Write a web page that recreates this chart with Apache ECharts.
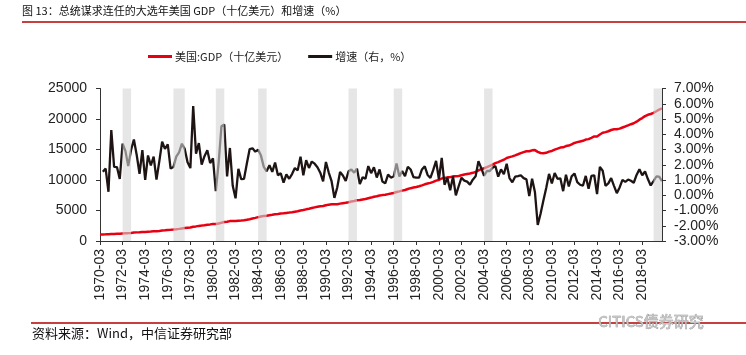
<!DOCTYPE html>
<html>
<head>
<meta charset="utf-8">
<script src="https://cdn.jsdelivr.net/npm/echarts@6/dist/echarts.min.js"></script>
<style>
html,body{margin:0;padding:0;background:#fff;}
#chart{width:746px;height:355px;}
</style>
</head>
<body>
<div id="chart"></div>
<script>
// Quarter labels 1970-03 ... 2019-12
var years = [];
for (var y = 1970; y <= 2019; y++) years.push(y);
var quarterEnds = ['03', '06', '09', '12'];
var categories = [];
years.forEach(function (yr) { quarterEnds.forEach(function (m) { categories.push(yr + '-' + m); }); });

// US nominal GDP, billions USD (left axis)
var gdp = [
  1051.2, 1067.4, 1086.1, 1088.6,
  1135.2, 1156.3, 1177.7, 1190.3,
  1230.6, 1266.4, 1290.6, 1328.9,
  1377.5, 1413.9, 1433.8, 1476.3,
  1491.2, 1530.1, 1560.0, 1599.7,
  1616.1, 1651.9, 1709.8, 1761.8,
  1820.5, 1852.3, 1886.6, 1934.3,
  1988.6, 2055.9, 2118.5, 2164.3,
  2202.8, 2331.6, 2395.1, 2476.9,
  2526.6, 2591.2, 2667.6, 2723.9,
  2789.8, 2797.4, 2856.5, 2985.6,
  3124.2, 3162.5, 3260.6, 3280.8,
  3274.3, 3331.0, 3366.3, 3402.6,
  3473.4, 3578.8, 3689.2, 3794.7,
  3908.1, 4009.6, 4084.3, 4148.6,
  4230.2, 4294.9, 4386.8, 4444.1,
  4507.9, 4545.3, 4607.7, 4657.6,
  4722.2, 4806.2, 4884.6, 5008.0,
  5073.4, 5190.0, 5282.8, 5399.5,
  5511.3, 5612.5, 5695.4, 5747.2,
  5872.7, 5960.0, 6015.1, 6004.7,
  6035.2, 6126.9, 6205.9, 6264.5,
  6363.1, 6470.8, 6566.6, 6680.8,
  6729.5, 6808.9, 6882.1, 7013.7,
  7115.7, 7246.9, 7331.1, 7455.3,
  7522.3, 7580.9, 7683.1, 7772.6,
  7868.5, 8032.8, 8131.4, 8259.8,
  8362.7, 8518.8, 8662.8, 8765.9,
  8866.5, 8969.7, 9121.1, 9294.0,
  9417.3, 9524.2, 9681.9, 9899.4,
  10002.9, 10247.7, 10318.2, 10435.7,
  10470.2, 10599.0, 10598.0, 10660.5,
  10783.5, 10887.5, 10984.0, 11061.4,
  11174.1, 11312.8, 11566.7, 11772.2,
  11923.4, 12112.8, 12305.3, 12527.2,
  12767.3, 12922.7, 13142.9, 13324.2,
  13599.2, 13753.4, 13870.2, 14039.6,
  14215.7, 14402.1, 14564.1, 14715.1,
  14706.5, 14865.7, 14898.9, 14608.2,
  14430.9, 14381.2, 14448.9, 14651.2,
  14764.6, 14980.2, 15141.6, 15309.5,
  15351.4, 15558.0, 15647.7, 15842.3,
  16068.8, 16207.1, 16319.5, 16420.4,
  16629.0, 16699.6, 16911.1, 17133.1,
  17144.3, 17462.7, 17743.2, 17852.5,
  17991.3, 18193.7, 18306.0, 18332.1,
  18425.3, 18611.6, 18775.5, 18968.0,
  19148.2, 19304.5, 19561.9, 19894.8,
  20155.5, 20470.2, 20687.3, 20819.3,
  21013.1, 21272.4, 21531.8, 21729.1
];

// Quarter-on-quarter growth, % (right axis)
var growth = [
  null, 1.54, 1.75, 0.23,
  4.28, 1.86, 1.85, 1.07,
  3.39, 2.91, 1.91, 2.97,
  3.66, 2.64, 1.41, 2.96,
  1.01, 2.61, 1.95, 2.54,
  1.03, 2.22, 3.51, 3.04,
  3.33, 1.75, 1.85, 2.53,
  2.81, 3.38, 3.04, 2.16,
  1.78, 5.85, 2.72, 3.42,
  2.01, 2.56, 2.95, 2.11,
  2.42, 0.27, 2.11, 4.52,
  4.64, 1.23, 3.10, 0.62,
  -0.20, 1.73, 1.06, 1.08,
  2.08, 3.03, 3.08, 2.86,
  2.99, 2.60, 1.86, 1.57,
  1.97, 1.53, 2.14, 1.31,
  1.44, 0.83, 1.37, 1.08,
  1.39, 1.78, 1.63, 2.53,
  1.31, 2.30, 1.79, 2.21,
  2.07, 1.84, 1.48, 0.91,
  2.18, 1.49, 0.92, -0.17,
  0.51, 1.52, 1.29, 0.94,
  1.57, 1.69, 1.48, 1.74,
  0.73, 1.18, 1.08, 1.91,
  1.45, 1.84, 1.16, 1.69,
  0.90, 0.78, 1.35, 1.16,
  1.23, 2.09, 1.23, 1.58,
  1.25, 1.87, 1.69, 1.19,
  1.15, 1.16, 1.69, 1.90,
  1.33, 1.14, 1.66, 2.25,
  1.05, 2.45, 0.69, 1.14,
  0.33, 1.23, -0.01, 0.59,
  1.15, 0.96, 0.89, 0.70,
  1.02, 1.24, 2.24, 1.78,
  1.28, 1.59, 1.59, 1.80,
  1.92, 1.22, 1.70, 1.38,
  2.06, 1.13, 0.85, 1.22,
  1.25, 1.31, 1.12, 1.04,
  -0.06, 1.08, 0.22, -1.95,
  -1.21, -0.34, 0.47, 1.40,
  0.77, 1.46, 1.08, 1.11,
  0.27, 1.35, 0.58, 1.24,
  1.43, 0.86, 0.69, 0.62,
  1.27, 0.42, 1.27, 1.31,
  0.07, 1.86, 1.61, 0.62,
  0.78, 1.12, 0.62, 0.14,
  0.51, 1.01, 0.88, 1.03,
  0.95, 0.82, 1.33, 1.70,
  1.31, 1.56, 1.06, 0.64,
  0.93, 1.23, 1.22, 0.92
];

// Shaded election periods (start, end quarter)
var electionStart = ['1972-03', '1976-09', '1980-06', '1984-03', '1992-03', '1996-03', '2004-03', '2019-03'];
var electionEnd   = ['1972-12', '1977-09', '1981-03', '1984-12', '1992-12', '1996-12', '2004-12', '2019-12'];

var leftTicks = { min: 0, max: 25000, step: 5000 };
var rightTicks = { min: -3, max: 7, step: 1 };

var seriesNames = ['美国:GDP（十亿美元）', '增速（右，%）'];
var titleText = '图 13：总统谋求连任的大选年美国 GDP（十亿美元）和增速（%）';
var sourceText = '资料来源：Wind，中信证券研究部';
var watermarkText = 'CITICS债券研究';

var FONT = "'Liberation Sans', Arial, 'Noto Sans CJK SC', sans-serif";
var CJK = "'Noto Sans CJK SC', 'Liberation Sans', sans-serif";

var shadeAreas = electionStart.map(function (s, i) {
  return [{ xAxis: s }, { xAxis: electionEnd[i] }];
});

var chart = echarts.init(document.getElementById('chart'), null, { renderer: 'canvas' });
chart.setOption({
  animation: false,
  backgroundColor: '#ffffff',
  textStyle: { fontFamily: FONT },
  grid: { left: 100, right: 84, top: 88.5, bottom: 114, containLabel: false },
  legend: {
    data: [
      { name: seriesNames[0], icon: 'rect' },
      { name: seriesNames[1], icon: 'rect' }
    ],
    left: 143,
    top: 46,
    itemWidth: 24,
    itemHeight: 3,
    itemGap: 20,
    textStyle: { fontFamily: CJK, fontSize: 11, color: '#222', padding: [0, 0, 0, -2] }
  },
  xAxis: {
    type: 'category',
    data: categories,
    boundaryGap: false,
    axisLine: { show: true, lineStyle: { color: '#333', width: 1 } },
    axisTick: { show: true, interval: 7, length: 4, lineStyle: { color: '#333' } },
    axisLabel: { interval: 7, rotate: 90, fontSize: 14, margin: 8, color: '#222', fontFamily: FONT },
    splitLine: { show: false }
  },
  yAxis: [
    {
      type: 'value',
      min: leftTicks.min, max: leftTicks.max, interval: leftTicks.step,
      axisLine: { show: true, lineStyle: { color: '#333', width: 1 } },
      axisTick: { show: true, length: 4, lineStyle: { color: '#333' } },
      axisLabel: {
        fontSize: 14, margin: 13, color: '#222', fontFamily: FONT,
        formatter: function (v) { return String(v); }
      },
      splitLine: { show: false }
    },
    {
      type: 'value',
      position: 'right',
      min: rightTicks.min, max: rightTicks.max, interval: rightTicks.step,
      axisLine: { show: true, lineStyle: { color: '#333', width: 1 } },
      axisTick: { show: true, length: 4, lineStyle: { color: '#333' } },
      axisLabel: {
        fontSize: 14, margin: 12, color: '#222', fontFamily: FONT,
        formatter: function (v) { return v.toFixed(2) + '%'; }
      },
      splitLine: { show: false }
    }
  ],
  series: [
    {
      name: seriesNames[0],
      type: 'line',
      yAxisIndex: 0,
      data: gdp,
      showSymbol: false,
      symbol: 'none',
      lineStyle: { color: '#e60012', width: 2.5 },
      itemStyle: { color: '#e60012' },
      z: 3
    },
    {
      name: seriesNames[1],
      type: 'line',
      yAxisIndex: 1,
      data: growth,
      showSymbol: false,
      symbol: 'none',
      lineStyle: { color: '#1e1414', width: 2.3 },
      itemStyle: { color: '#1e1414' },
      z: 4
    },
    {
      name: 'shade',
      type: 'line',
      yAxisIndex: 0,
      data: [],
      z: 10,
      markArea: {
        silent: true,
        z: 10,
        itemStyle: { color: 'rgba(214,214,214,0.6)' },
        data: shadeAreas
      }
    }
  ],
  graphic: [
    { type: 'text', left: 22, top: 5, style: { text: titleText, font: "11px " + CJK, fill: '#111' } },
    { type: 'line', shape: { x1: 22, y1: 22, x2: 746, y2: 22 }, style: { stroke: '#b40000', lineWidth: 1.5 } },
    { type: 'line', shape: { x1: 31, y1: 323, x2: 746, y2: 323 }, style: { stroke: '#b40000', lineWidth: 1.5 } },
    { type: 'text', left: 32, top: 327, style: { text: sourceText, font: "13px " + CJK, fill: '#111' } },
    { type: 'text', left: 598, top: 313, z: 20, style: { text: watermarkText, font: "15px " + CJK, fill: '#c4c4c4', stroke: '#8f8f8f', lineWidth: 0.6 } }
  ]
});
</script>
</body>
</html>
